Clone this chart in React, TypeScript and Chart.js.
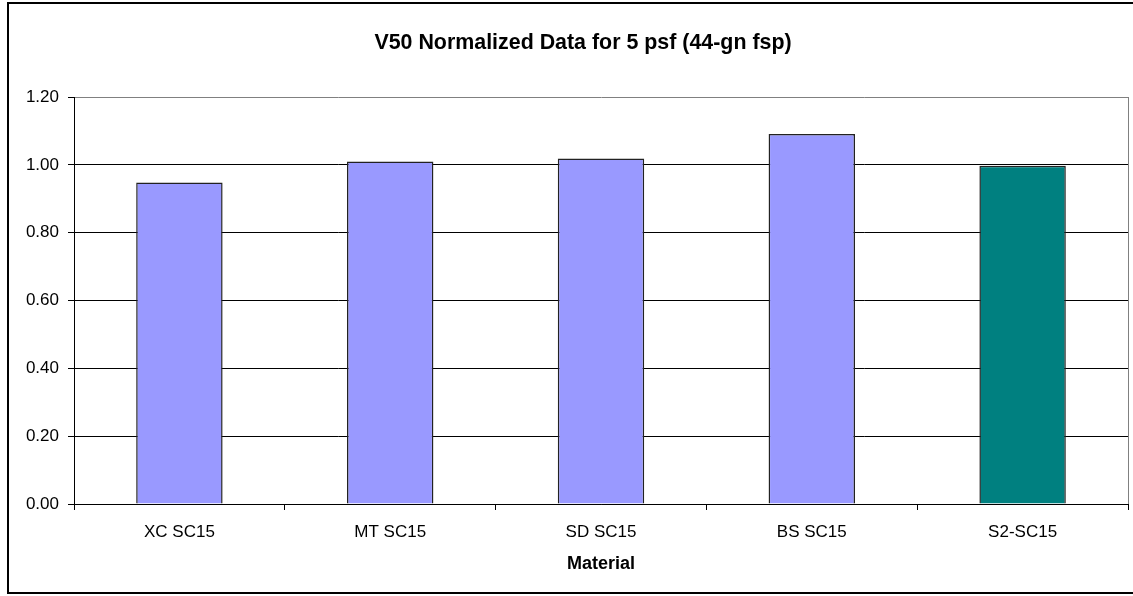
import React, { useEffect, useRef } from "react";
import { Chart, registerables } from "chart.js";

Chart.register(...registerables);

const categories = ["XC SC15", "MT SC15", "SD SC15", "BS SC15", "S2-SC15"];
const values = [0.948, 1.01, 1.019, 1.091, 0.997];
const barColors = ["#9999FF", "#9999FF", "#9999FF", "#9999FF", "#008080"];
const titleText = "V50 Normalized Data for 5 psf (44-gn fsp)";
const xTitle = "Material";
const yMin = 0;
const yMax = 1.2;
const yStep = 0.2;

const frame = {
  id: "frame",
  afterDraw(chart: any) {
    const { ctx, chartArea } = chart;
    ctx.save();
    ctx.strokeStyle = "#808080";
    ctx.lineWidth = 1;
    ctx.beginPath();
    ctx.moveTo(Math.round(chartArea.right) + 0.5, chartArea.top);
    ctx.lineTo(Math.round(chartArea.right) + 0.5, chartArea.bottom);
    ctx.stroke();
    ctx.strokeStyle = "#000000";
    ctx.lineWidth = 2;
    ctx.strokeRect(8, 3, 1150, 590);
    // chart title, centred on the full chart frame
    ctx.fillStyle = "#000000";
    ctx.font = "bold 21.4px 'Liberation Sans', Arial, sans-serif";
    ctx.textAlign = "center";
    ctx.textBaseline = "middle";
    ctx.fillText(titleText, 583, 43);
    ctx.restore();
  },
};

export default function App() {
  const ref = useRef<HTMLCanvasElement | null>(null);
  useEffect(() => {
    if (!ref.current) return;
    const chart = new Chart(ref.current, {
      type: "bar",
      data: {
        labels: categories,
        datasets: [
          {
            data: values,
            backgroundColor: barColors,
            borderColor: "#222222",
            borderWidth: 1.5,
            barPercentage: 0.41,
            categoryPercentage: 1,
          },
        ],
      },
      options: {
        responsive: false,
        animation: false,
        layout: { padding: { left: 0, right: 5, top: 97, bottom: 0 } },
        plugins: {
          legend: { display: false },
          tooltip: { enabled: false },
          title: { display: false },
        },
        scales: {
          x: {
            grid: {
              offset: true,
              drawOnChartArea: false,
              drawTicks: true,
              tickLength: 6,
              tickColor: "#000000",
              color: "#000000",
            },
            border: { color: "#000000", width: 1 },
            ticks: {
              color: "#000000",
              padding: 12,
              font: { family: "Liberation Sans, Arial, sans-serif", size: 17 },
              maxRotation: 0,
            },
            title: {
              display: true,
              text: xTitle,
              color: "#000000",
              font: { family: "Liberation Sans, Arial, sans-serif", size: 18, weight: "bold" },
              padding: { top: 4, bottom: 21 },
            },
            afterFit(scale: any) {
              scale.height = 92;
            },
          },
          y: {
            min: yMin,
            max: yMax,
            grid: {
              color: (c: any) => (c.tick && Math.abs(c.tick.value - yMax) < 1e-6 ? "#808080" : "#000000"),
              lineWidth: 1,
              tickLength: 6,
              tickColor: "#000000",
            },
            border: { color: "#000000", width: 1 },
            ticks: {
              stepSize: yStep,
              color: "#000000",
              padding: 9,
              font: { family: "Liberation Sans, Arial, sans-serif", size: 17 },
              callback: (v: any) => Number(v).toFixed(2),
            },
            afterFit(scale: any) {
              scale.width = 74;
            },
          },
        },
      },
      plugins: [frame],
    });
    return () => chart.destroy();
  }, []);
  return (
    <div style={{ position: "absolute", left: 0, top: 0, width: 1133, height: 596, background: "#fff" }}>
      <canvas ref={ref} width={1133} height={596} />
    </div>
  );
}
